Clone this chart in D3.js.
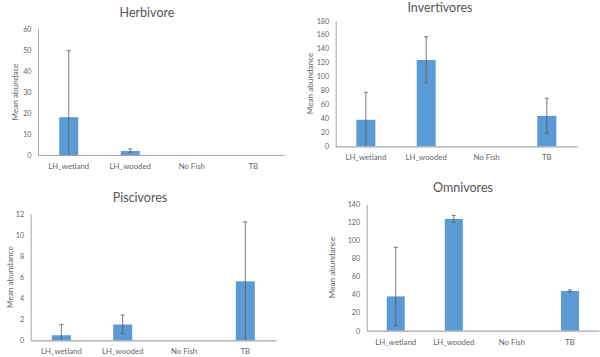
<!DOCTYPE html>
<html><head><meta charset="utf-8">
<script src="https://cdn.jsdelivr.net/npm/d3@7"></script>
<style>body{margin:0;background:#fff}svg{display:block}text{font-family:Lato,"Open Sans",sans-serif;fill:#595959}</style>
</head><body>
<svg id="c" width="600" height="357"></svg>
<script>
const categories = ["LH_wetland", "LH_wooded", "No Fish", "TB"];

const herbivoreMean  = [18, 1.9, 0, 0];
const herbivoreUpper = [49.7, 2.9, null, null];
const herbivoreLower = [0, 1.3, null, null];
const herbivoreTicks = [0, 10, 20, 30, 40, 50, 60];

const invertMean  = [38, 123.6, 0, 43.6];
const invertUpper = [77.4, 157, null, 68.8];
const invertLower = [0, 91, null, 18.6];
const invertTicks = [0, 20, 40, 60, 80, 100, 120, 140, 160, 180];

const pisciMean  = [0.48, 1.5, 0, 5.6];
const pisciUpper = [1.5, 2.4, null, 11.25];
const pisciLower = [0, 0.62, null, 0];
const pisciTicks = [0, 2, 4, 6, 8, 10, 12];

const omniMean  = [38, 123.8, 0, 44];
const omniUpper = [92.3, 127.8, null, 45.3];
const omniLower = [5.5, 120, null, 43];
const omniTicks = [0, 20, 40, 60, 80, 100, 120, 140];

const titles = ["Herbivore", "Invertivores", "Piscivores", "Omnivores"];
const yLabels = ["Mean abundace", "Mean abundance", "Mean abundance", "Mean abundance"];

const panels = [
  {title: titles[0], ylab: yLabels[0], mean: herbivoreMean, up: herbivoreUpper, lo: herbivoreLower, ticks: herbivoreTicks,
   x0: 38, x1: 284, yTop: 29, yBot: 155, titleX: 147, titleY: 17, ylabX: 15, barW: 19},
  {title: titles[1], ylab: yLabels[1], mean: invertMean, up: invertUpper, lo: invertLower, ticks: invertTicks,
   x0: 335.7, x1: 577, yTop: 20.7, yBot: 146.3, titleX: 440, titleY: 12, ylabX: 310, barW: 19},
  {title: titles[2], ylab: yLabels[2], mean: pisciMean, up: pisciUpper, lo: pisciLower, ticks: pisciTicks,
   x0: 30.7, x1: 276, yTop: 214, yBot: 340.3, titleX: 140, titleY: 202, ylabX: 10, barW: 19},
  {title: titles[3], ylab: yLabels[3], mean: omniMean, up: omniUpper, lo: omniLower, ticks: omniTicks,
   x0: 366.7, x1: 599, yTop: 204.3, yBot: 330.7, titleX: 463, titleY: 192, ylabX: 332, barW: 18}
];

const svg = d3.select("#c");
const textCol = "#666666";

panels.forEach(p => {
  const g = svg.append("g");
  const x = d3.scaleBand().domain(categories).range([p.x0, p.x1]).padding(0);
  const y = d3.scaleLinear().domain([0, d3.max(p.ticks)]).range([p.yBot, p.yTop]);

  g.append("text").attr("x", p.titleX).attr("y", p.titleY).attr("text-anchor", "middle")
    .style("font-size", "12.5px").style("fill", "#555").text(p.title);

  // y axis
  const ya = g.append("g").attr("transform", `translate(${p.x0},0)`)
    .call(d3.axisLeft(y).tickValues(p.ticks).tickSize(0).tickPadding(6.5));
  ya.select(".domain").attr("stroke", "#a6a6a6").attr("stroke-width", 1);
  ya.selectAll("text").style("font-size", "7.2px").style("fill", textCol).style("font-family", "Lato,sans-serif");

  // bars
  g.selectAll("rect.bar").data(categories).enter().append("rect")
    .attr("x", (d) => x(d) + x.bandwidth() / 2 - p.barW / 2)
    .attr("width", p.barW)
    .attr("y", (d, i) => y(p.mean[i]))
    .attr("height", (d, i) => y(0) - y(p.mean[i]))
    .attr("fill", "#5B9BD5");

  // x axis
  const xa = g.append("g").attr("transform", `translate(0,${p.yBot})`)
    .call(d3.axisBottom(x).tickSize(0).tickPadding(8.5));
  xa.select(".domain").attr("stroke", "#a6a6a6").attr("stroke-width", 1.2);
  xa.selectAll("text").style("font-size", "7.8px").style("fill", textCol).style("font-family", "Lato,sans-serif");

  // error bars
  categories.forEach((c, i) => {
    if (p.up[i] == null) return;
    const cx = x(c) + x.bandwidth() / 2;
    g.append("line").attr("x1", cx).attr("x2", cx).attr("y1", y(p.up[i])).attr("y2", y(p.lo[i]))
      .attr("stroke", "#595959").attr("stroke-width", 0.8);
    g.append("line").attr("x1", cx - 2).attr("x2", cx + 2).attr("y1", y(p.up[i])).attr("y2", y(p.up[i]))
      .attr("stroke", "#595959").attr("stroke-width", 0.8);
    if (p.lo[i] > 0) {
      g.append("line").attr("x1", cx - 2).attr("x2", cx + 2).attr("y1", y(p.lo[i])).attr("y2", y(p.lo[i]))
        .attr("stroke", "#595959").attr("stroke-width", 0.8);
    }
  });

  // y label
  const cy = (p.yTop + p.yBot) / 2;
  g.append("text").attr("transform", `translate(${p.ylabX},${cy}) rotate(-90)`)
    .attr("text-anchor", "middle").attr("dy", "0.35em").style("font-size", "8.2px").style("fill", textCol).text(p.ylab);
});
</script>
</body></html>
